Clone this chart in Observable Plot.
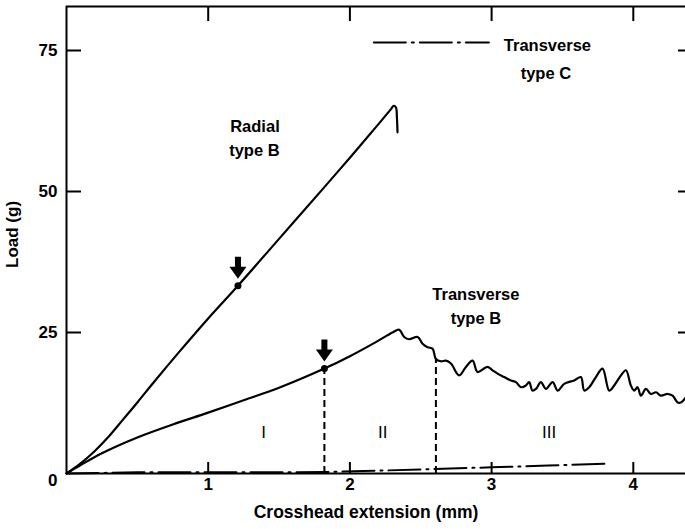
<!DOCTYPE html>
<html>
<head>
<meta charset="utf-8">
<script src="https://cdn.jsdelivr.net/npm/d3@7"></script>
<script src="https://cdn.jsdelivr.net/npm/@observablehq/plot@0.6"></script>
<style>
  html, body { margin: 0; padding: 0; background: #fff; }
  #chart svg { display: block; }
</style>
</head>
<body>
<div id="chart"></div>
<script>
// ---------- data ----------
const radialX = [0, 0.1, 0.2, 0.3, 0.4, 0.5, 0.6, 0.8, 1.0, 1.21, 1.5, 1.8, 2.0, 2.2, 2.29, 2.31, 2.325, 2.332, 2.336];
const radialY = [0, 1.8, 4.0, 6.6, 9.6, 12.6, 15.7, 21.7, 27.5, 33.3, 41.6, 50.2, 56.0, 61.9, 64.6, 65.2, 64.9, 63.0, 60.5];

const transBX = [0, 0.1, 0.25, 0.5, 0.75, 1.0, 1.25, 1.5, 1.82, 2.0, 2.183, 2.3, 2.348, 2.383, 2.418, 2.478, 2.513, 2.548, 2.584, 2.607, 2.642, 2.677, 2.713, 2.771, 2.819, 2.866, 2.901, 2.972, 3.007, 3.042, 3.089, 3.136, 3.172, 3.207, 3.242, 3.265, 3.289, 3.313, 3.348, 3.383, 3.431, 3.466, 3.512, 3.583, 3.630, 3.654, 3.689, 3.736, 3.783, 3.830, 3.865, 3.913, 3.948, 3.983, 4.006, 4.030, 4.054, 4.089, 4.124, 4.160, 4.195, 4.242, 4.277, 4.313, 4.336, 4.371];
const transBY = [0, 1.5, 3.6, 6.4, 8.7, 10.8, 13.0, 15.2, 18.6, 20.8, 23.3, 25.0, 25.5, 24.2, 23.8, 24.2, 23.0, 22.4, 22.1, 20.3, 19.9, 20.0, 19.5, 17.4, 18.9, 20.0, 18.0, 18.9, 18.3, 17.7, 17.1, 16.5, 16.2, 15.3, 15.6, 16.2, 14.7, 15.0, 16.2, 15.0, 16.2, 14.7, 15.9, 16.5, 17.1, 14.7, 15.3, 17.1, 18.6, 14.7, 15.6, 17.4, 18.3, 15.6, 14.7, 15.3, 13.8, 15.0, 14.1, 14.4, 13.8, 14.1, 13.8, 12.6, 12.6, 13.5];

const transCX = [0, 0.5, 1.0, 1.5, 1.82, 2.2, 2.6, 3.0, 3.4, 3.81];
const transCY = [0, 0.2, 0.2, 0.2, 0.25, 0.5, 0.8, 1.1, 1.4, 1.75];

// arrow-marked points and stage boundaries
const markerX = [1.21, 1.82];
const markerY = [33.3, 18.6];
const boundaryX = [1.82, 2.607];
const boundaryTop = [18.6, 20.3];

// stage labels
const stageLabels = ["I", "II", "III"];
const stageX = [1.391, 2.231, 3.406];

// curve labels (one entry per text line)
const curveText = ["Radial", "type B", "Transverse", "type B", "Transverse", "type C"];
const curveTextX = [1.33, 1.326, 2.889, 2.889, 3.394, 3.383];
const curveTextY = [61.5, 57.3, 31.7, 27.4, 75.8, 70.8];

// ticks
const xTicks = [1, 2, 3, 4];
const yTicks = [25, 50, 75];
const xLabel = "Crosshead extension (mm)";
const yLabel = "Load (g)";

// ---------- layout ----------
const W = 685, H = 529;
const mL = 66, mT = 6, mB = 56, mR = 0;
const pxPerX = 141.7, pxPerY = 5.64;
const xMax = (W - mL - mR) / pxPerX;
const yMax = (H - mT - mB) / pxPerY;
const stageY = 7.3;
const legendX = [2.169, 2.981];
const legendY = 76.4;
const dashDot = "32,6,2,6";

const toRows = (xs, ys) => xs.map((x, i) => ({x, y: ys[i]}));
const radial = toRows(radialX, radialY);
const transB = toRows(transBX, transBY);
const transC = toRows(transCX, transCY);
const markers = toRows(markerX, markerY);
const legendRows = legendX.map(x => ({x, y: legendY}));

const arrowSymbol = {
  draw(ctx, size) {
    const s = Math.sqrt(size / Math.PI) / 11;
    ctx.moveTo(-3 * s, -11 * s);
    ctx.lineTo(3 * s, -11 * s);
    ctx.lineTo(3 * s, -1 * s);
    ctx.lineTo(8.5 * s, -1 * s);
    ctx.lineTo(0, 11 * s);
    ctx.lineTo(-8.5 * s, -1 * s);
    ctx.lineTo(-3 * s, -1 * s);
    ctx.closePath();
  }
};

const font = "'Liberation Sans', Arial, Helvetica, sans-serif";

const chart = Plot.plot({
  width: W,
  height: H,
  marginLeft: mL,
  marginTop: mT,
  marginBottom: mB,
  marginRight: mR,
  x: {domain: [0, xMax]},
  y: {domain: [0, yMax]},
  style: {fontFamily: font, fontSize: "17px", fontWeight: "bold", background: "#fff", color: "#000"},
  marks: [
    // frame (left, bottom, top)
    Plot.ruleX([0], {stroke: "#000", strokeWidth: 2}),
    Plot.ruleY([0, yMax], {stroke: "#000", strokeWidth: 2}),
    // axes with inward ticks
    Plot.axisY(yTicks, {anchor: "left", tickSize: -15, tickPadding: 24, strokeWidth: 2, label: null, fontSize: 17, tickFormat: d => String(d)}),
    Plot.axisY([0], {anchor: "left", tickSize: 0, tickPadding: 9, dy: 7, label: null, fontSize: 17, tickFormat: d => String(d)}),
    Plot.axisY(yTicks, {anchor: "right", tickSize: -8, strokeWidth: 2, fill: "none", label: null}),
    Plot.axisX(xTicks, {anchor: "bottom", tickSize: -11, tickPadding: 15, strokeWidth: 2, label: null, fontSize: 17, tickFormat: d => String(d)}),
    Plot.axisX(xTicks, {anchor: "top", tickSize: -14, strokeWidth: 2, fill: "none", label: null}),
    // axis titles
    Plot.text([xLabel], {frameAnchor: "bottom", dy: 44, dx: -10, fontSize: 17.5}),
    Plot.text([yLabel], {frameAnchor: "left", rotate: -90, dx: -54, dy: 28, fontSize: 17}),
    // stage boundaries
    Plot.ruleX(boundaryX, {x: d => d, y1: 0, y2: (d, i) => boundaryTop[i], stroke: "#000", strokeWidth: 2, strokeDasharray: "7,4"}),
    // curves
    Plot.line(transC, {x: "x", y: "y", stroke: "#000", strokeWidth: 2, strokeDasharray: dashDot}),
    Plot.line(radial, {x: "x", y: "y", stroke: "#000", strokeWidth: 2.2, curve: "catmull-rom"}),
    Plot.line(transB, {x: "x", y: "y", stroke: "#000", strokeWidth: 2.2, curve: "catmull-rom"}),
    // legend for type C
    Plot.line(legendRows, {x: "x", y: "y", stroke: "#000", strokeWidth: 2, strokeDasharray: dashDot}),
    // markers and arrows
    Plot.dot(markers, {x: "x", y: "y", r: 3.5, fill: "#000"}),
    Plot.dot(markers, {x: "x", y: "y", r: 11, symbol: arrowSymbol, fill: "#000", dy: -18}),
    // labels
    Plot.text(curveText, {x: (d, i) => curveTextX[i], y: (d, i) => curveTextY[i], fontSize: 16.5}),
    Plot.text(stageLabels, {x: (d, i) => stageX[i], y: stageY, fontSize: 17, fontWeight: "normal", fill: "#000"})
  ]
});

document.getElementById("chart").appendChild(chart);
</script>
</body>
</html>
